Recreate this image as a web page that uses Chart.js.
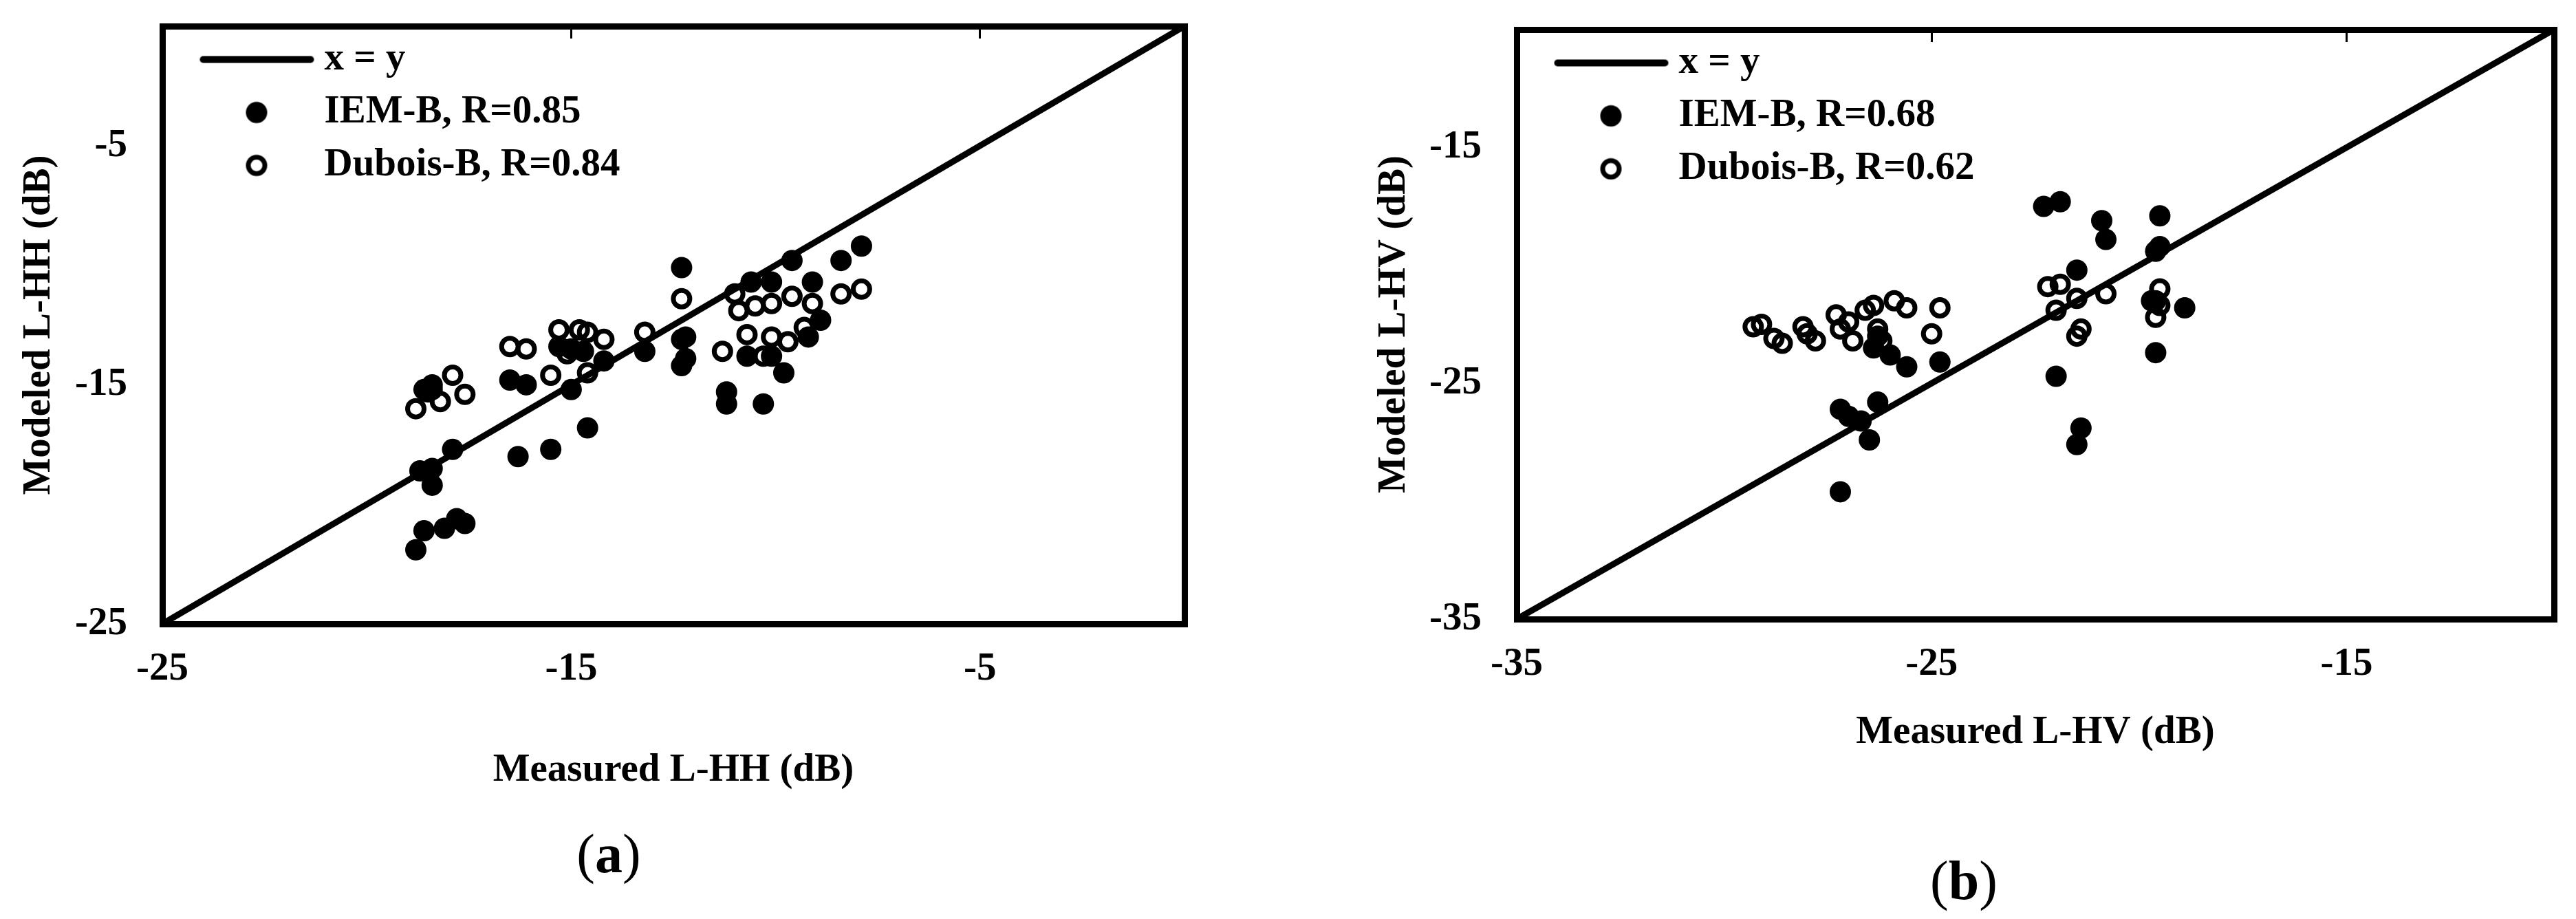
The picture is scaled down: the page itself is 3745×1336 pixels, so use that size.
<!DOCTYPE html>
<html>
<head>
<meta charset="utf-8">
<script src="https://cdn.jsdelivr.net/npm/chart.js@4.4.1/dist/chart.umd.min.js"></script>
<style>
  body { margin: 0; background: #fff; width: 3745px; height: 1336px; position: relative; overflow: hidden; }
  canvas { position: absolute; top: 0; }
  #chart_hh { left: 0; }
  #chart_hv { left: 1970px; }
  .cap { position: absolute; font-family: "Liberation Serif"; font-size: 80px; line-height: 1; transform: translate(-50%, -50%); color: #000; }
</style>
</head>
<body>
<canvas id="chart_hh" width="1870" height="1336"></canvas>
<canvas id="chart_hv" width="1775" height="1336"></canvas>
<div class="cap" style="left:885px; top:1241px">(<b>a</b>)</div>
<div class="cap" style="left:2855px; top:1280px">(<b>b</b>)</div>
<script>
// (a) L-HH
const hhTicks = [-25, -15, -5];
const hhRange = [-25, 0];
const hhIemX = [-12.3, -9.6, -8.4, -7.9, -10.6, -10.1, -9.1, -8.9, -9.2, -12.2, -12.2, -12.3, -10.7, -10.1, -9.8, -11.2, -11.2, -10.3, -13.2, -14.2,
                -14.7, -15.3, -15.0, -16.5, -16.1, -15.0, -14.6, -15.5, -16.3, -17.9, -18.6, -18.4, -18.7, -18.4, -18.4, -18.6, -18.1, -17.8, -17.6, -18.8];
const hhIemY = [-10.1, -9.8, -9.8, -9.2, -10.7, -10.7, -10.7, -12.3, -13.0, -13.0, -13.9, -14.2, -13.8, -13.8, -14.5, -15.3, -15.8, -15.8, -13.6, -14.0,
                -13.6, -13.4, -13.5, -14.8, -15.0, -15.2, -16.8, -17.7, -18.0, -17.7, -15.2, -15.0, -18.6, -18.5, -19.2, -21.1, -21.0, -20.6, -20.8, -21.9];
const hhDuboisX = [-12.3, -11.0, -10.9, -10.5, -10.1, -9.6, -9.1, -8.4, -7.9, -9.3, -9.7, -10.1, -10.7, -11.3, -10.3, -12.3,
                   -13.2, -14.2, -14.6, -14.8, -15.3, -15.1, -14.6, -15.5, -16.5, -16.1, -17.9, -17.6, -18.2, -18.5, -18.8, -18.4];
const hhDuboisY = [-11.4, -11.2, -11.9, -11.7, -11.6, -11.3, -11.6, -11.2, -11.0, -12.6, -13.2, -13.0, -12.9, -13.6, -13.8, -13.1,
                   -12.8, -13.1, -12.8, -12.7, -12.7, -13.7, -14.5, -14.6, -13.4, -13.5, -14.6, -15.4, -15.7, -15.3, -16.0, -15.2];
const hhLabels = ['x = y', 'IEM-B, R=0.85', 'Dubois-B, R=0.84'];

// (b) L-HV
const hvTicks = [-35, -25, -15];
const hvRange = [-35, -10];
const hvIemX = [-22.3, -21.9, -20.9, -20.8, -19.5, -19.6, -19.5, -21.5, -19.7, -18.9, -19.6, -22.0, -21.4, -21.5, -24.8, -25.6, -26.0, -26.4, -26.3,
                -27.2, -27.0, -26.7, -26.3, -26.5, -27.2];
const hvIemY = [-17.5, -17.3, -18.1, -18.9, -17.9, -19.4, -19.2, -20.2, -21.5, -21.8, -23.7, -24.7, -26.9, -27.6, -24.1, -24.3, -23.8, -23.5, -23.0,
                -26.1, -26.4, -26.6, -25.8, -27.4, -29.6];
const hvDuboisX = [-29.3, -29.1, -28.8, -28.6, -28.1, -28.0, -27.8, -27.3, -27.2, -27.0, -26.9, -26.6, -26.4, -26.3, -26.2, -25.9, -25.6, -25.0, -24.8,
                   -22.2, -21.9, -22.0, -21.5, -21.5, -21.4, -20.8, -19.5, -19.6, -19.6, -19.5];
const hvDuboisY = [-22.6, -22.5, -23.1, -23.3, -22.6, -22.9, -23.2, -22.1, -22.7, -22.4, -23.2, -21.9, -21.7, -22.7, -23.2, -21.5, -21.8, -22.9, -21.8,
                   -20.9, -20.8, -21.9, -21.4, -23.0, -22.7, -21.2, -21.0, -21.5, -22.2, -21.7];
const hvLabels = ['x = y', 'IEM-B, R=0.68', 'Dubois-B, R=0.62'];

function pts(xs, ys) {
    return xs.map(function (x, i) { return { x: x, y: ys[i] }; });
}

// legend symbols; the image centre sits on the legend box centre, so the symbol is drawn off-centre
function legendIcon(kind) {
    const c = document.createElement('canvas');
    c.width = 220; c.height = 40;
    const g = c.getContext('2d');
    g.strokeStyle = '#000'; g.fillStyle = '#000';
    g.beginPath();
    if (kind === 'line') {
        g.lineWidth = 10; g.lineCap = 'round';
        g.moveTo(56, 20); g.lineTo(212, 20); g.stroke();
    } else if (kind === 'filled') {
        g.arc(133.5, 20, 15.5, 0, Math.PI * 2); g.fill();
    } else {
        g.lineWidth = 7;
        g.arc(133.5, 20, 12, 0, Math.PI * 2); g.stroke();
    }
    return c;
}
const icons = [legendIcon('line'), legendIcon('filled'), legendIcon('open')];

const serif = 'Liberation Serif';
const tickFont = { family: serif, size: 57, weight: 'bold', lineHeight: 1 };
const titleFont = { family: serif, size: 57, weight: 'bold', lineHeight: 1.2 };

function CreateScatterChart(target_id, p) {
    const ctx = document.getElementById(target_id);
    const setTicks = function (scale) { scale.ticks = p.ticks.map(function (v) { return { value: v }; }); };
    // keep the tick labels from pushing the plot area around
    const noPad = function (s) { s.paddingTop = 0; s.paddingBottom = 0; s.paddingLeft = 0; s.paddingRight = 0; };
    const frame = { display: true, width: 9, color: '#000' };

    const data = {
        datasets: [
            { label: p.labels[0], data: pts(p.range, p.range), showLine: true, borderColor: '#000', borderWidth: 9, pointRadius: 0 },
            { label: p.labels[1], data: pts(p.iemX, p.iemY), pointRadius: 15.5, borderWidth: 0, backgroundColor: '#000' },
            { label: p.labels[2], data: pts(p.duboisX, p.duboisY), pointRadius: 12, borderWidth: 7, borderColor: '#000', backgroundColor: 'rgba(0,0,0,0)' }
        ]
    };

    return new Chart(ctx, {
        type: 'scatter',
        data: data,
        options: {
            responsive: false,
            animation: false,
            devicePixelRatio: 1,
            events: [],
            layout: { padding: p.padding },
            scales: {
                x: {
                    type: 'linear', position: 'bottom', min: p.range[0], max: p.range[1],
                    afterBuildTicks: setTicks,
                    afterFit: function (s) { s.height = p.xAxisH; noPad(s); },
                    grid: { display: false, drawTicks: false, lineWidth: 9 },
                    border: frame,
                    ticks: { font: tickFont, color: '#000', padding: 38, maxRotation: 0, autoSkip: false, callback: function (v) { return String(v); } },
                    title: { display: true, text: p.xTitle, font: titleFont, color: '#000', padding: { top: 0, bottom: 0 } }
                },
                y: {
                    type: 'linear', position: 'left', min: p.range[0], max: p.range[1],
                    afterBuildTicks: setTicks,
                    afterFit: function (s) { s.width = p.yAxisW; noPad(s); },
                    grid: { display: false, drawTicks: false, lineWidth: 9 },
                    border: frame,
                    ticks: { font: tickFont, color: '#000', padding: 51, autoSkip: false, callback: function (v) { return String(v); } },
                    title: { display: true, text: p.yTitle, font: titleFont, color: '#000', padding: { top: 23, bottom: 0 } }
                },
                x2: {
                    type: 'linear', position: 'top', min: p.range[0], max: p.range[1],
                    afterBuildTicks: setTicks,
                    afterFit: function (s) { s.height = 0; noPad(s); },
                    grid: { display: true, drawOnChartArea: false, drawTicks: true, tickLength: -18, tickWidth: 3, tickColor: '#000', lineWidth: 9 },
                    border: frame,
                    ticks: { display: false }
                },
                y2: {
                    type: 'linear', position: 'right', min: p.range[0], max: p.range[1],
                    afterFit: function (s) { s.width = 0; noPad(s); },
                    grid: { display: false, drawTicks: false, lineWidth: 9 },
                    border: frame,
                    ticks: { display: false }
                }
            },
            plugins: {
                tooltip: { enabled: false },
                legend: {
                    position: 'chartArea',
                    align: 'start',
                    // the chartArea legend starts at the canvas top; an empty title pushes it down to the frame
                    title: { display: true, text: '', font: { size: 10, lineHeight: 1 }, padding: { top: p.padding.top - 10, bottom: 0 } },
                    labels: {
                        usePointStyle: true,
                        pointStyleWidth: 187,
                        padding: 20,
                        color: '#000',
                        font: { family: serif, size: 57, weight: 'bold' },
                        generateLabels: function (chart) {
                            return Chart.defaults.plugins.legend.labels.generateLabels(chart).map(function (item, i) {
                                item.pointStyle = icons[i];
                                return item;
                            });
                        }
                    }
                }
            }
        }
    });
}

CreateScatterChart('chart_hh', {
    ticks: hhTicks, range: hhRange, labels: hhLabels,
    iemX: hhIemX, iemY: hhIemY, duboisX: hhDuboisX, duboisY: hhDuboisY,
    xTitle: 'Measured L-HH (dB)', yTitle: 'Modeled L-HH (dB)',
    padding: { left: 0, top: 38, right: 148, bottom: 182 },
    xAxisH: 247, yAxisW: 236
});

CreateScatterChart('chart_hv', {
    ticks: hvTicks, range: hvRange, labels: hvLabels,
    iemX: hvIemX, iemY: hvIemY, duboisX: hvDuboisX, duboisY: hvDuboisY,
    xTitle: 'Measured L-HV (dB)', yTitle: 'Modeled L-HV (dB)',
    padding: { left: 0, top: 43, right: 32, bottom: 237 },
    xAxisH: 199, yAxisW: 235
});
</script>
</body>
</html>
